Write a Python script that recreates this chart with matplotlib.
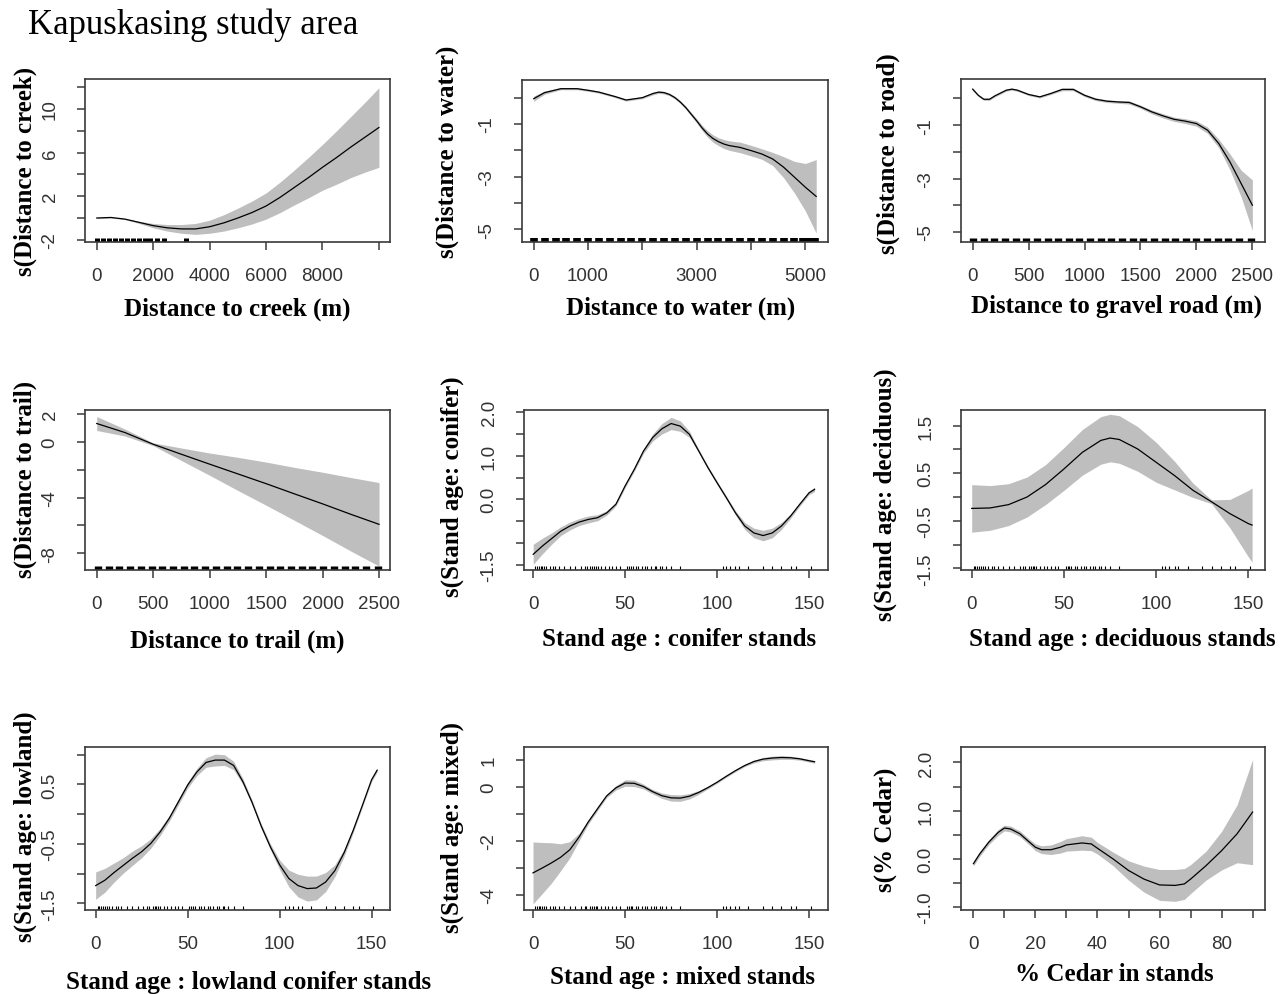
import matplotlib
matplotlib.use('Agg')
import numpy as np
import matplotlib.pyplot as plt

# values (GAM smooths, +/- band half width)
x_creek = [0, 500, 1000, 1500, 2000, 2500, 3000, 3500, 4000, 4500, 5000,
           5500, 6000, 6500, 7000, 7500, 8000, 8500, 9000, 9500, 10000]
fit_creek = [0.0, 0.05, -0.1, -0.4, -0.7, -0.9, -1.0, -1.0, -0.8, -0.45, 0.0,
             0.5, 1.1, 1.9, 2.8, 3.7, 4.65, 5.55, 6.5, 7.4, 8.3]
se_creek = [0.05, 0.05, 0.05, 0.1, 0.2, 0.3, 0.4, 0.5, 0.6, 0.75, 0.9,
            1.05, 1.2, 1.4, 1.6, 1.85, 2.1, 2.45, 2.8, 3.2, 3.65]
rug_creek = [20, 230, 440, 650, 860, 1070, 1280, 1490, 1700, 1900, 2120, 2380, 3150]

x_water = [0, 200, 500, 800, 1000, 1200, 1500, 1700, 2000, 2200, 2300, 2400, 2500, 2600, 2700,
           2800, 2900, 3000, 3100, 3200, 3300, 3400, 3500, 3600, 3800, 4000, 4200, 4400,
           4600, 4800, 5000, 5200]
fit_water = [-0.04, 0.19, 0.34, 0.34, 0.28, 0.21, 0.04, -0.09, 0.0, 0.16, 0.21, 0.19, 0.12, 0.0, -0.17,
             -0.38, -0.63, -0.88, -1.15, -1.38, -1.55, -1.67, -1.76, -1.82, -1.89, -2.01, -2.14, -2.33,
             -2.64, -3.02, -3.40, -3.75]
se_water = [0.1, 0.06, 0.04, 0.04, 0.04, 0.04, 0.04, 0.04, 0.04, 0.05, 0.05, 0.05, 0.05, 0.05, 0.055,
            0.06, 0.07, 0.08, 0.1, 0.12, 0.14, 0.15, 0.17, 0.18, 0.2, 0.2, 0.2, 0.25,
            0.4, 0.6, 0.9, 1.4]
rug_water = [10, 210, 410, 600, 800, 1000, 1200, 1400, 1600, 1800, 2000, 2200, 2400, 2600,
             2800, 3000, 3200, 3400, 3600, 3800, 4000, 4200, 4400, 4600, 4800, 4950, 5050, 5180]

x_road = [0, 50, 100, 150, 200, 300, 350, 400, 500, 600, 700, 800, 900, 1000, 1100,
          1200, 1300, 1400, 1500, 1600, 1700, 1800, 1900, 2000, 2100, 2200, 2300, 2400, 2500]
fit_road = [0.35, 0.12, -0.03, -0.03, 0.1, 0.31, 0.35, 0.31, 0.15, 0.06, 0.19, 0.34, 0.34, 0.12, -0.03,
            -0.1, -0.13, -0.15, -0.31, -0.5, -0.65, -0.78, -0.85, -0.94, -1.19, -1.69, -2.38, -3.19, -4.0]
se_road = [0.05, 0.04, 0.04, 0.04, 0.04, 0.04, 0.04, 0.04, 0.04, 0.04, 0.04, 0.05, 0.05, 0.05, 0.05,
           0.05, 0.05, 0.06, 0.06, 0.07, 0.08, 0.08, 0.09, 0.1, 0.12, 0.16, 0.3, 0.5, 0.95]
rug_road = [5, 100, 195, 290, 385, 480, 575, 670, 765, 860, 955, 1050, 1145, 1240, 1335,
            1430, 1525, 1620, 1715, 1810, 1905, 2000, 2095, 2190, 2285, 2380, 2490]

x_trail = [0, 250, 500, 750, 1000, 1250, 1500, 1750, 2000, 2250, 2500]
fit_trail = [1.32, 0.67, -0.17, -0.89, -1.6, -2.3, -3.0, -3.73, -4.45, -5.2, -5.92]
se_trail = [0.5, 0.25, 0.1, 0.45, 0.8, 1.19, 1.55, 1.9, 2.27, 2.64, 3.0]
rug_trail = [10, 105, 200, 295, 390, 485, 580, 675, 770, 865, 960, 1055, 1150, 1245,
             1340, 1435, 1530, 1625, 1720, 1815, 1910, 2005, 2100, 2195, 2290, 2385, 2490]

x_age = [0, 5, 10, 15, 20, 25, 30, 35, 40, 45, 50, 55, 60, 65, 70, 75,
         80, 85, 90, 95, 100, 105, 110, 115, 120, 125, 130, 135, 140, 145, 150, 153]
rug_age = [1, 2, 3, 4, 5, 6, 7, 9, 11, 12, 14, 17, 20, 23, 26, 28, 29, 31, 32, 33, 34, 35,
           37, 39, 41, 43, 45, 47, 51, 52, 53, 54, 56, 57, 59, 61, 62, 64, 66, 67, 69, 70,
           72, 75, 80, 103, 105, 107, 110, 112, 117, 125, 130, 135, 140, 143, 151]

fit_conifer = [-1.26, -1.07, -0.90, -0.73, -0.61, -0.52, -0.46, -0.42, -0.31, -0.11, 0.31, 0.69,
               1.11, 1.42, 1.62, 1.74, 1.68, 1.49, 1.11, 0.73, 0.38, 0.04, -0.31, -0.61,
               -0.77, -0.83, -0.77, -0.61, -0.38, -0.11, 0.15, 0.23]
se_conifer = [0.23, 0.18, 0.13, 0.10, 0.09, 0.08, 0.08, 0.07, 0.05, 0.04, 0.04, 0.04,
              0.05, 0.08, 0.12, 0.14, 0.12, 0.07, 0.04, 0.04, 0.04, 0.04, 0.05, 0.08,
              0.11, 0.12, 0.11, 0.08, 0.05, 0.04, 0.04, 0.05]

x_decid = [0, 10, 20, 30, 40, 50, 60, 70, 75, 80, 90, 100, 110, 120, 130, 140, 150, 152]
fit_decid = [-0.24, -0.23, -0.16, 0.0, 0.26, 0.59, 0.94, 1.19, 1.24, 1.21, 1.01, 0.73,
             0.45, 0.14, -0.1, -0.35, -0.56, -0.59]
se_decid = [0.5, 0.47, 0.44, 0.42, 0.42, 0.45, 0.48, 0.5, 0.5, 0.5, 0.47, 0.42,
            0.3, 0.15, 0.04, 0.3, 0.7, 0.78]

fit_lowland = [-1.20, -1.11, -0.98, -0.86, -0.74, -0.63, -0.49, -0.30, -0.07, 0.21, 0.49, 0.71,
               0.87, 0.91, 0.91, 0.82, 0.55, 0.20, -0.20, -0.55, -0.85, -1.08, -1.20, -1.25,
               -1.24, -1.14, -0.95, -0.65, -0.27, 0.15, 0.58, 0.74]
se_lowland = [0.23, 0.20, 0.16, 0.13, 0.12, 0.10, 0.08, 0.06, 0.05, 0.05, 0.05, 0.06,
              0.08, 0.10, 0.09, 0.07, 0.05, 0.04, 0.04, 0.05, 0.08, 0.14, 0.19, 0.21,
              0.20, 0.16, 0.10, 0.06, 0.04, 0.03, 0.03, 0.03]

fit_mixed = [-3.19, -3.01, -2.82, -2.61, -2.33, -1.86, -1.30, -0.81, -0.33, -0.03, 0.15, 0.14,
             0.02, -0.17, -0.32, -0.40, -0.41, -0.34, -0.20, -0.02, 0.18, 0.40, 0.61, 0.80,
             0.95, 1.04, 1.08, 1.10, 1.09, 1.05, 0.98, 0.94]
se_mixed = [1.15, 0.95, 0.75, 0.50, 0.30, 0.14, 0.08, 0.07, 0.06, 0.08, 0.12, 0.12,
            0.09, 0.08, 0.10, 0.12, 0.12, 0.10, 0.07, 0.05, 0.04, 0.04, 0.04, 0.04,
            0.05, 0.06, 0.07, 0.07, 0.06, 0.05, 0.05, 0.05]

x_cedar = [0, 2, 5, 8, 10, 12, 15, 18, 20, 22, 25, 28, 30, 35, 38, 40, 45, 50, 55,
           60, 65, 68, 70, 75, 80, 85, 90]
fit_cedar = [-0.10, 0.10, 0.35, 0.55, 0.64, 0.62, 0.52, 0.35, 0.24, 0.19, 0.19, 0.24, 0.29,
             0.33, 0.31, 0.22, 0.0, -0.24, -0.42, -0.54, -0.55, -0.52, -0.42, -0.14, 0.17, 0.52, 0.97]
se_cedar = [0.05, 0.05, 0.05, 0.06, 0.06, 0.06, 0.06, 0.06, 0.07, 0.08, 0.1, 0.12, 0.13,
            0.15, 0.14, 0.12, 0.14, 0.2, 0.27, 0.32, 0.33, 0.32, 0.3, 0.3, 0.4, 0.6, 1.09]

W, H = 1286, 995
BAND = '#bebebe'
EDGE = '#3a3a3a'
SERIF = 'Liberation Serif'
SANS = 'Liberation Sans'


def draw_panel(box, x, fit, se, rug, rug_w, xlim, ylim, xticks, xlabels, yticks, ylabels,
               xlab, ylab, xlab_pos, ylab_pos):
    l, t, r, b = box
    ax = fig.add_axes([l / W, 1 - b / H, (r - l) / W, (b - t) / H])
    fit = np.array(fit)
    se = np.array(se)
    ax.fill_between(x, fit - se, fit + se, color=BAND, lw=0)
    ax.plot(x, fit, color='black', lw=0.9)
    if rug is not None:
        ax.vlines(rug, 0, 0.025, transform=ax.get_xaxis_transform(),
                  colors='black', lw=rug_w)
    ax.set_xlim(xlim)
    ax.set_ylim(ylim)
    ax.set_xticks(xticks)
    ax.set_xticklabels(xlabels, family=SANS, fontsize=13.5, color='#333333')
    ax.set_yticks(yticks)
    ax.set_yticklabels(ylabels, family=SANS, fontsize=13.5, color='#333333',
                       rotation=90, va='center')
    ax.tick_params(direction='out', length=6, width=1.1, color=EDGE)
    ax.tick_params(axis='x', pad=12)
    ax.tick_params(axis='y', pad=13)
    for s in ax.spines.values():
        s.set_color(EDGE)
        s.set_linewidth(1.2)
    ax.text(xlab_pos[0], xlab_pos[1], xlab, transform=ax.transAxes, ha='center',
            va='center', family=SERIF, fontsize=18, fontweight='bold')
    ax.text(ylab_pos[0], ylab_pos[1], ylab, transform=ax.transAxes, ha='center',
            va='center', rotation=90, family=SERIF, fontsize=18, fontweight='bold')
    return ax


fig = plt.figure(figsize=(W / 100, H / 100), dpi=100)

fig.text(28 / W, 1 - 25 / H, 'Kapuskasing study area', family=SERIF, fontsize=25,
         ha='left', va='center')

draw_panel((85, 80, 390, 243), x_creek, fit_creek, se_creek, rug_creek, 3.6,
           (-417, 10393), (-2.2, 12.75),
           [0, 2000, 4000, 6000, 8000, 10000], ['0', '2000', '4000', '6000', '8000', ''],
           [-2, 0, 2, 4, 6, 8, 10, 12], ['-2', '', '2', '', '6', '', '10', ''],
           'Distance to creek (m)', 's(Distance to creek)', (0.5, -0.405), (-0.197, 0.44))

draw_panel((522, 81, 828, 243), x_water, fit_water, se_water, rug_water, 5.5,
           (-215, 5417), (-5.48, 0.67),
           [0, 1000, 2000, 3000, 4000, 5000], ['0', '1000', '', '3000', '', '5000'],
           [-5, -4, -3, -2, -1, 0], ['-5', '', '-3', '', '-1', ''],
           'Distance to water (m)', 's(Distance to water)', (0.52, -0.405), (-0.245, 0.56))

draw_panel((961, 80, 1265, 243), x_road, fit_road, se_road, rug_road, 5.3,
           (-104, 2613), (-5.38, 0.73),
           [0, 500, 1000, 1500, 2000, 2500], ['0', '500', '1000', '1500', '2000', '2500'],
           [-5, -4, -3, -2, -1, 0], ['-5', '', '-3', '', '-1', ''],
           'Distance to gravel road (m)', 's(Distance to road)', (0.51, -0.387), (-0.24, 0.55))

draw_panel((85, 411, 390, 571), x_trail, fit_trail, se_trail, rug_trail, 5.3,
           (-104, 2597), (-9.2, 2.29),
           [0, 500, 1000, 1500, 2000, 2500], ['0', '500', '1000', '1500', '2000', '2500'],
           [-8, -6, -4, -2, 0, 2], ['-8', '', '-4', '', '0', '2'],
           'Distance to trail (m)', 's(Distance to trail)', (0.5, -0.44), (-0.197, 0.575))

draw_panel((524, 411, 828, 571), x_age, fit_conifer, se_conifer, rug_age, 0.8,
           (-5, 160.3), (-1.62, 2.05),
           [0, 50, 100, 150], ['0', '50', '100', '150'],
           [-1.5, -1.0, -0.5, 0.0, 0.5, 1.0, 1.5, 2.0],
           ['-1.5', '', '', '0.0', '', '1.0', '', '2.0'],
           'Stand age : conifer stands', 's(Stand age: conifer)', (0.51, -0.43), (-0.235, 0.525))

draw_panel((961, 411, 1265, 571), x_decid, fit_decid, se_decid, rug_age, 0.8,
           (-5.8, 159), (-1.535, 1.83),
           [0, 50, 100, 150], ['0', '50', '100', '150'],
           [-1.5, -1.0, -0.5, 0.0, 0.5, 1.0, 1.5],
           ['-1.5', '', '-0.5', '', '0.5', '', '1.5'],
           'Stand age : deciduous stands', 's(Stand age: deciduous)', (0.53, -0.43), (-0.25, 0.475))

draw_panel((85, 748, 390, 911), x_age, fit_lowland, se_lowland, rug_age, 0.8,
           (-5.8, 160), (-1.61, 1.13),
           [0, 50, 100, 150], ['0', '50', '100', '150'],
           [-1.5, -1.0, -0.5, 0.0, 0.5, 1.0],
           ['-1.5', '', '-0.5', '', '0.5', ''],
           'Stand age : lowland conifer stands', 's(Stand age: lowland)', (0.535, -0.436), (-0.197, 0.52))

draw_panel((524, 748, 828, 911), x_age, fit_mixed, se_mixed, rug_age, 0.8,
           (-4.9, 160.3), (-4.57, 1.49),
           [0, 50, 100, 150], ['0', '50', '100', '150'],
           [-4, -3, -2, -1, 0, 1], ['-4', '', '-2', '', '0', '1'],
           'Stand age : mixed stands', 's(Stand age: mixed)', (0.52, -0.405), (-0.235, 0.51))

draw_panel((961, 748, 1265, 911), x_cedar, fit_cedar, se_cedar, None, 0.8,
           (-4, 94), (-1.06, 2.32),
           [0, 10, 20, 30, 40, 50, 60, 70, 80, 90],
           ['0', '', '20', '', '40', '', '60', '', '80', ''],
           [-1.0, -0.5, 0.0, 0.5, 1.0, 1.5, 2.0],
           ['-1.0', '', '0.0', '', '1.0', '', '2.0'],
           '% Cedar in stands', 's(% Cedar)', (0.505, -0.39), (-0.25, 0.5))

fig.savefig('out.png', dpi=100)
